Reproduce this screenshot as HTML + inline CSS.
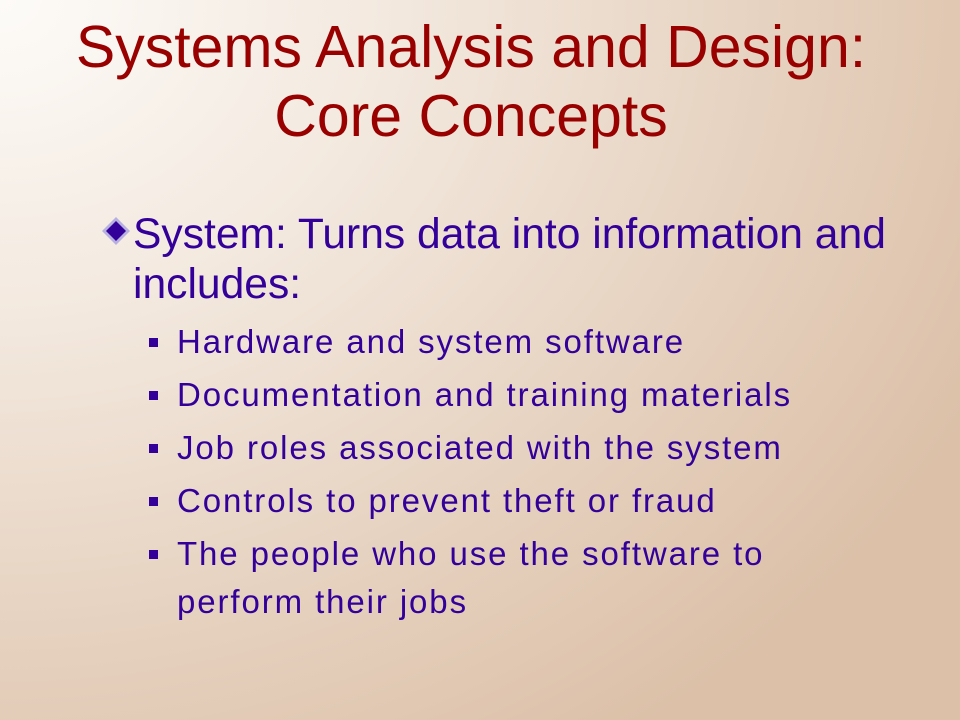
<!DOCTYPE html>
<html><head><meta charset="utf-8"><style>
body{margin:0;}
#slide{position:relative;width:960px;height:720px;overflow:hidden;font-family:"Liberation Sans",sans-serif;
background:radial-gradient(ellipse 1100px 900px at 0px 0px,#fdfbf8 0%,#f3e9df 35%,#e6d2c0 70%,#dcc0a8 100%);}
.t{position:absolute;left:-9px;width:960px;text-align:center;color:#990000;font-size:59px;line-height:1;white-space:nowrap;}
.m{position:absolute;left:133px;color:#330099;font-size:42.6px;line-height:1;white-space:nowrap;}
.s{position:absolute;left:177px;color:#330099;font-size:33px;letter-spacing:1.9px;line-height:1;white-space:nowrap;}
.sq{position:absolute;left:149px;width:9px;height:9px;background:#330099;}
</style></head><body>
<div id="slide">
<div class="t" style="top:18px">Systems Analysis and Design:</div>
<div class="t" style="top:87px">Core Concepts</div>
<svg style="position:absolute;left:100px;top:215px" width="32" height="32">
<polygon points="16,2 30,16 16,30 2,16" fill="#b8b0e0"/><polygon points="16,6 26,16 16,26 6,16" fill="#330099"/></svg>
<div class="m" style="top:213px">System: Turns data into information and</div>
<div class="m" style="top:263px">includes:</div>
<div class="sq" style="top:338px"></div>
<div class="s" style="top:325px">Hardware and system software</div>
<div class="sq" style="top:391px"></div>
<div class="s" style="top:378px">Documentation and training materials</div>
<div class="sq" style="top:444px"></div>
<div class="s" style="top:431px">Job roles associated with the system</div>
<div class="sq" style="top:497px"></div>
<div class="s" style="top:484px">Controls to prevent theft or fraud</div>
<div class="sq" style="top:550px"></div>
<div class="s" style="top:537px">The people who use the software to</div>
<div class="s" style="top:585px">perform their jobs</div>
</div>
</body></html>
